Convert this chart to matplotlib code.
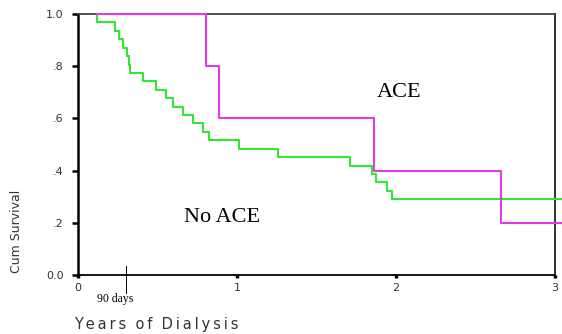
import matplotlib
matplotlib.use("Agg")
import matplotlib.pyplot as plt

# Kaplan-Meier steps (years, cumulative survival)
no_ace_years = [0.12, 0.12, 0.233, 0.26, 0.281, 0.31, 0.32, 0.327, 0.411, 0.49, 0.553,
                0.60, 0.662, 0.725, 0.784, 0.826, 1.014, 1.26, 1.715, 1.851, 1.878,
                1.945, 1.977, 3.04]
no_ace_surv = [1.0, 0.968, 0.935, 0.903, 0.871, 0.839, 0.806, 0.774, 0.742, 0.710, 0.677,
               0.645, 0.613, 0.581, 0.548, 0.516, 0.484, 0.452, 0.419, 0.387, 0.355,
               0.323, 0.290, 0.290]

ace_years = [0.12, 0.805, 0.889, 1.864, 2.665, 3.04]
ace_surv = [1.0, 0.8, 0.6, 0.4, 0.2, 0.2]

y_ticks = [0.0, 0.2, 0.4, 0.6, 0.8, 1.0]
y_tick_labels = ["0.0", ".2", ".4", ".6", ".8", "1.0"]
x_ticks = [0, 1, 2, 3]
x_tick_labels = ["0", "1", "2", "3"]

fig = plt.figure(figsize=(5.62, 3.34), dpi=100)
ax = fig.add_axes([0.1388, 0.1766, 0.8479, 0.7814])

# survival curves
ax.step(no_ace_years, no_ace_surv, where="post", color="#33e633", lw=1.5, clip_on=False, zorder=3)
ax.step(ace_years, ace_surv, where="post", color="#e03ce6", lw=1.5, clip_on=False, zorder=4)

ax.set_xlim(0, 3)
ax.set_ylim(0, 1.0)

ax.set_yticks(y_ticks)
ax.set_yticklabels(y_tick_labels, fontsize=8, color="#333333")
ax.set_xticks(x_ticks)
ax.set_xticklabels(x_tick_labels, fontsize=8, color="#333333")
ax.tick_params(axis="y", direction="out", length=4.5, width=1.8, pad=6, color="black")
ax.tick_params(axis="x", direction="out", length=2, width=2.5, pad=4, color="black")

# frame
ax.spines["left"].set_linewidth(1.8)
ax.spines["left"].set_color("black")
ax.spines["bottom"].set_linewidth(1.3)
ax.spines["bottom"].set_color("black")
ax.spines["top"].set_linewidth(1.3)
ax.spines["top"].set_color("#444444")
ax.spines["right"].set_linewidth(1.3)
ax.spines["right"].set_color("#222222")

# group labels
ax.text(2.02, 0.70, "ACE", family="Liberation Serif", fontsize=16, ha="center", va="center")
ax.text(0.91, 0.22, "No ACE", family="Liberation Serif", fontsize=16, ha="center", va="center")

# 90 days marker
ax.plot([0.30, 0.30], [0.035, -0.069], color="black", lw=0.7, clip_on=False)
ax.text(0.235, -0.09, "90 days", family="Liberation Serif", fontsize=8.5,
        ha="center", va="center", clip_on=False)

# axis titles
fig.text(0.0285, 0.308, "Cum Survival", rotation=90, fontsize=9, color="#333333",
         ha="center", va="center")
xlab = "  ".join("\u2009".join(w) for w in ["Years", "of", "Dialysis"])
fig.text(0.2776, 0.027, xlab, fontsize=10.5, color="#333333", ha="center", va="center")

plt.savefig("out.png", dpi=100)
